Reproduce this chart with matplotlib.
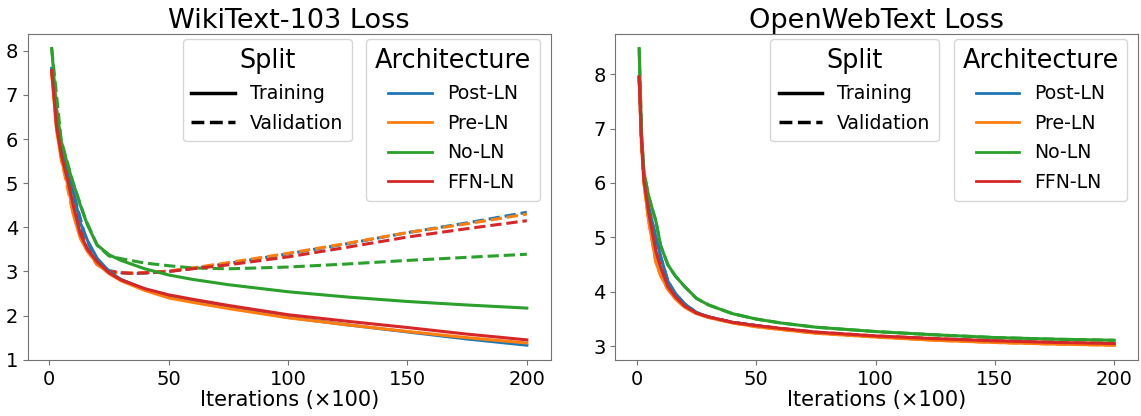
import numpy as np
import matplotlib.pyplot as plt
from matplotlib.lines import Line2D

archs = ['Post-LN', 'Pre-LN', 'No-LN', 'FFN-LN']
colors = ['tab:blue', 'tab:orange', 'tab:green', 'tab:red']

# WikiText-103, training loss
wt_iters = [1, 3, 5, 8, 10, 13, 16, 20, 25, 30, 40, 50, 60, 75, 100, 125, 150, 175, 200]
wt_train_post = [7.60, 6.40, 5.75, 5.15, 4.80, 4.10, 3.70, 3.30, 3.00, 2.82, 2.60, 2.43, 2.32, 2.18, 1.96, 1.79, 1.63, 1.47, 1.33]
wt_train_pre = [7.50, 6.20, 5.55, 4.90, 4.30, 3.75, 3.45, 3.18, 2.95, 2.79, 2.57, 2.40, 2.30, 2.16, 1.95, 1.79, 1.64, 1.50, 1.38]
wt_train_no = [8.05, 6.70, 5.95, 5.35, 5.00, 4.50, 4.05, 3.60, 3.38, 3.25, 3.06, 2.92, 2.82, 2.70, 2.54, 2.42, 2.32, 2.24, 2.17]
wt_train_ffn = [7.55, 6.30, 5.65, 5.00, 4.50, 3.85, 3.50, 3.22, 2.97, 2.81, 2.61, 2.47, 2.37, 2.23, 2.02, 1.87, 1.73, 1.58, 1.45]

# WikiText-103, validation loss
wt_val_iters = [1, 5, 10, 15, 20, 25, 30, 35, 40, 50, 60, 75, 100, 125, 150, 175, 200]
wt_val_post = [7.60, 5.75, 4.80, 3.80, 3.20, 3.02, 2.97, 2.95, 2.96, 3.00, 3.07, 3.18, 3.40, 3.63, 3.88, 4.10, 4.34]
wt_val_pre = [7.50, 5.55, 4.30, 3.55, 3.15, 3.00, 2.97, 2.96, 2.97, 3.01, 3.08, 3.20, 3.41, 3.64, 3.88, 4.08, 4.30]
wt_val_no = [8.05, 5.95, 5.00, 4.20, 3.60, 3.35, 3.29, 3.24, 3.19, 3.13, 3.08, 3.06, 3.10, 3.17, 3.25, 3.32, 3.39]
wt_val_ffn = [7.55, 5.65, 4.50, 3.60, 3.18, 3.00, 2.97, 2.96, 2.97, 3.00, 3.06, 3.15, 3.33, 3.55, 3.78, 3.97, 4.15]

# OpenWebText, training loss (validation lies on top of it)
owt_iters = [1, 2, 3, 5, 8, 10, 13, 16, 20, 25, 30, 40, 50, 60, 75, 100, 125, 150, 175, 200]
owt_train_post = [7.95, 6.80, 6.10, 5.55, 5.00, 4.65, 4.20, 3.98, 3.78, 3.62, 3.54, 3.44, 3.38, 3.32, 3.25, 3.18, 3.13, 3.09, 3.06, 3.03]
owt_train_pre = [7.95, 6.70, 6.00, 5.30, 4.55, 4.30, 4.05, 3.88, 3.72, 3.60, 3.53, 3.43, 3.36, 3.31, 3.24, 3.17, 3.11, 3.07, 3.04, 3.02]
owt_train_no = [8.47, 6.90, 6.20, 5.75, 5.30, 4.85, 4.50, 4.30, 4.10, 3.88, 3.76, 3.60, 3.50, 3.43, 3.35, 3.27, 3.21, 3.16, 3.13, 3.11]
owt_train_ffn = [7.95, 6.75, 6.05, 5.45, 4.75, 4.45, 4.10, 3.92, 3.74, 3.61, 3.54, 3.44, 3.38, 3.33, 3.26, 3.19, 3.14, 3.10, 3.07, 3.05]
owt_val_post = [7.95, 6.80, 6.10, 5.55, 5.00, 4.65, 4.20, 3.98, 3.78, 3.62, 3.54, 3.44, 3.38, 3.32, 3.25, 3.18, 3.13, 3.09, 3.06, 3.03]
owt_val_pre = [7.95, 6.70, 6.00, 5.30, 4.55, 4.30, 4.05, 3.88, 3.72, 3.60, 3.53, 3.43, 3.36, 3.31, 3.24, 3.17, 3.11, 3.07, 3.04, 3.02]
owt_val_no = [8.47, 6.90, 6.20, 5.75, 5.30, 4.85, 4.50, 4.30, 4.10, 3.88, 3.76, 3.60, 3.50, 3.43, 3.35, 3.27, 3.21, 3.16, 3.13, 3.11]
owt_val_ffn = [7.95, 6.75, 6.05, 5.45, 4.75, 4.45, 4.10, 3.92, 3.74, 3.61, 3.54, 3.44, 3.38, 3.33, 3.26, 3.19, 3.14, 3.10, 3.07, 3.05]

panels = [
    ('WikiText-103 Loss', wt_iters, [wt_train_post, wt_train_pre, wt_train_no, wt_train_ffn],
     wt_val_iters, [wt_val_post, wt_val_pre, wt_val_no, wt_val_ffn]),
    ('OpenWebText Loss', owt_iters, [owt_train_post, owt_train_pre, owt_train_no, owt_train_ffn],
     owt_iters, [owt_val_post, owt_val_pre, owt_val_no, owt_val_ffn]),
]

plt.rcParams['axes.edgecolor'] = '0.45'
plt.rcParams['xtick.color'] = '0.45'
plt.rcParams['ytick.color'] = '0.45'
plt.rcParams['xtick.labelcolor'] = 'black'
plt.rcParams['ytick.labelcolor'] = 'black'

fig, axes = plt.subplots(1, 2, figsize=(11.41, 4.16), dpi=100)
fig.subplots_adjust(left=0.0245, right=0.9974, bottom=0.1346, top=0.919, wspace=0.124)

for ax, (title, it, train, vit, val) in zip(axes, panels):
    for v, c in zip(val, colors):
        ax.plot(vit, v, color=c, linestyle='--', linewidth=2.2)
    for t, c in zip(train, colors):
        ax.plot(it, t, color=c, linestyle='-', linewidth=2.2)
    ax.set_title(title, fontsize=19.5, pad=4)
    ax.set_xlabel('Iterations (×100)', fontsize=15, labelpad=1)
    ax.set_xticks([0, 50, 100, 150, 200])
    ax.tick_params(labelsize=14)

    # two separate legends: line style and colour
    split_handles = [Line2D([], [], color='black', linestyle='-', linewidth=2.5),
                     Line2D([], [], color='black', linestyle='--', linewidth=2.5)]
    leg1 = ax.legend(split_handles, ['Training', 'Validation'], title='Split',
                     loc='upper right', bbox_to_anchor=(0.6195, 0.983), borderaxespad=0,
                     fontsize=13.6, title_fontsize=18.4, handlelength=2.3,
                     labelspacing=0.56, borderpad=0.45)
    ax.add_artist(leg1)
    arch_handles = [Line2D([], [], color=c, linewidth=2) for c in colors]
    ax.legend(arch_handles, archs, title='Architecture', loc='upper right',
              bbox_to_anchor=(0.979, 0.983), borderaxespad=0,
              fontsize=13.6, title_fontsize=18.4, handlelength=2.3,
              labelspacing=0.56, borderpad=0.45)

plt.savefig('out.png', dpi=100)
